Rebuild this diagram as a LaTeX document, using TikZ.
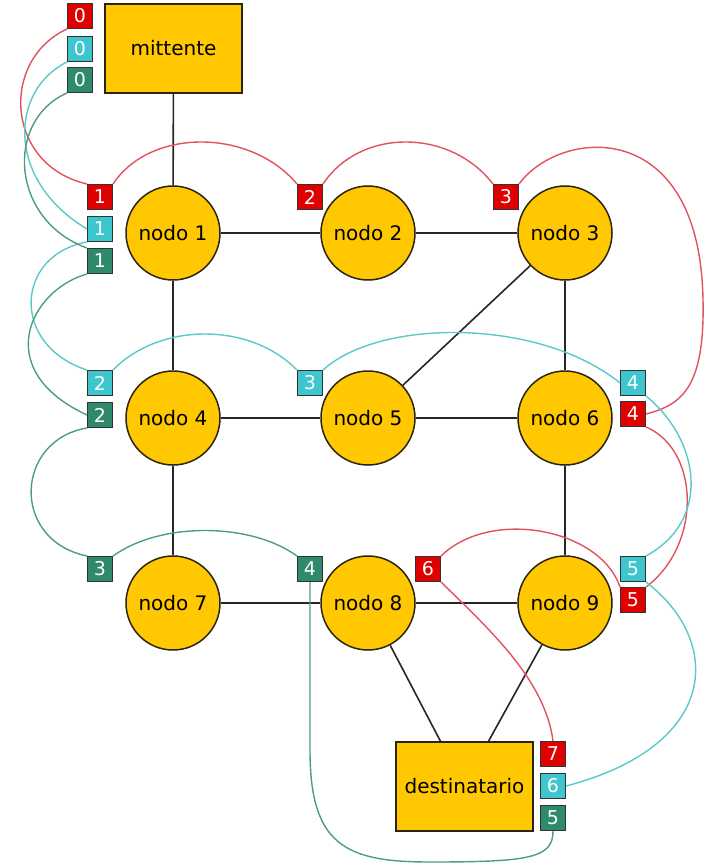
\documentclass[tikz,border=0pt]{standalone}
\usepackage{fontspec}
\setmainfont{DejaVu Sans}
\definecolor{giallo}{HTML}{FFC800}
\definecolor{bordo}{HTML}{2B2410}
\definecolor{rosso}{HTML}{E00000}
\definecolor{rossofilo}{HTML}{E2525E}
\definecolor{ciano}{HTML}{3EC6CE}
\definecolor{cianofilo}{HTML}{5CC8C8}
\definecolor{verde}{HTML}{2E8A68}
\definecolor{verdefilo}{HTML}{4E9C80}

\begin{document}
\begin{tikzpicture}[x=0.5pt, y=-0.5pt,
        cerchio/.style={circle, draw=bordo, line width=0.75pt, fill=giallo,
            minimum size=47pt, inner sep=0pt, font=\fontsize{10}{12}\selectfont},
        scatola/.style={rectangle, draw=bordo, line width=0.75pt, fill=giallo,
            minimum width=68.5pt, minimum height=44.5pt, font=\fontsize{10}{12}\selectfont},
        tag/.style={rectangle, draw=black!80, line width=0.5pt, minimum size=12.5pt,
            inner sep=0pt, text=white, font=\fontsize{9.5}{10}\selectfont},
        tagR/.style={tag, fill=rosso},
        tagC/.style={tag, fill=ciano},
        tagV/.style={tag, fill=verde},
        filoR/.style={rossofilo, line width=0.7pt},
        filoC/.style={cianofilo, line width=0.7pt},
        filoV/.style={verdefilo, line width=0.7pt},
        arco/.style={draw=black!85, line width=0.8pt}]
        \useasboundingbox (0,0) rectangle (713,866);

        \node[scatola] (mitt) at (173.5,48.5) {mittente};
        \node[cerchio] (n1) at (173,233) {nodo 1};
        \node[cerchio] (n2) at (368,233) {nodo 2};
        \node[cerchio] (n3) at (565,233) {nodo 3};
        \node[cerchio] (n4) at (173,418) {nodo 4};
        \node[cerchio] (n5) at (368,418) {nodo 5};
        \node[cerchio] (n6) at (565,418) {nodo 6};
        \node[cerchio] (n7) at (173,603) {nodo 7};
        \node[cerchio] (n8) at (368,603) {nodo 8};
        \node[cerchio] (n9) at (565,603) {nodo 9};
        \node[scatola] (dest) at (464.5,786.5) {destinatario};

        \node[tagR] (r0) at (80,16) {0};
        \node[tagC] (c0) at (80,49) {0};
        \node[tagV] (g0) at (80,80) {0};
        \node[tagR] (r1) at (100,197) {1};
        \node[tagC] (c1) at (100,229) {1};
        \node[tagV] (g1) at (100,261) {1};
        \node[tagR] (r2) at (310,197) {2};
        \node[tagR] (r3) at (506,197) {3};
        \node[tagC] (c2) at (100,383) {2};
        \node[tagV] (g2) at (100,415) {2};
        \node[tagC] (c3) at (310,383) {3};
        \node[tagC] (c4) at (633,383) {4};
        \node[tagR] (r4) at (633,414) {4};
        \node[tagV] (g3) at (100,569) {3};
        \node[tagV] (g4) at (310,569) {4};
        \node[tagR] (r6) at (428,569) {6};
        \node[tagC] (c5) at (633,569) {5};
        \node[tagR] (r5) at (633,600) {5};
        \node[tagR] (r7) at (553,754) {7};
        \node[tagC] (c6) at (553,786) {6};
        \node[tagV] (g5) at (553,818) {5};

        \draw[arco] (mitt) -- (n1);
        \draw[arco] (n1) -- (n2);
        \draw[arco] (n2) -- (n3);
        \draw[arco] (n1) -- (n4);
        \draw[arco] (n4) -- (n5);
        \draw[arco] (n5) -- (n6);
        \draw[arco] (n3) -- (n5);
        \draw[arco] (n3) -- (n6);
        \draw[arco] (n4) -- (n7);
        \draw[arco] (n6) -- (n9);
        \draw[arco] (n7) -- (n8);
        \draw[arco] (n8) -- (n9);
        \draw[arco] (n8) -- ([xshift=-12pt]dest.north);
        \draw[arco] (n9) -- ([xshift=12pt]dest.north);

        \draw[filoR] (r0.south west) .. controls (0,60) and (5,165) .. (r1.north west);
        \draw[filoR] (r1.north east) .. controls (150,128) and (250,128) .. (r2.north west);
        \draw[filoR] (r2.north east) .. controls (360,128) and (450,128) .. (r3.north west);
        \draw[filoR] (r3.north east) .. controls (560,128) and (700,115) .. (703,300)
            .. controls (705,390) and (680,405) .. (r4.east);
        \draw[filoR] (r4.south east) .. controls (700,450) and (702,545) .. (r5.north east);
        \draw[filoR] (r5.north west) .. controls (600,528) and (490,508) .. (r6.north east);
        \draw[filoR] (r6.south east) .. controls (490,630) and (545,680) .. (r7.north);

        \draw[filoC] (c0.south west) .. controls (10,90) and (5,180) .. (c1.west);
        \draw[filoC] (c1.south west) .. controls (15,255) and (10,345) .. (c2.north west);
        \draw[filoC] (c2.north east) .. controls (160,322) and (250,322) .. (c3.north west);
        \draw[filoC] (c3.north east) .. controls (380,318) and (540,318) .. (c4.west);
        \draw[filoC] (c4.south east) .. controls (700,440) and (712,520) .. (c5.north east);
        \draw[filoC] (c5.south east) .. controls (722,640) and (722,745) .. (c6.east);

        \draw[filoV] (g0.south west) .. controls (5,120) and (10,220) .. (g1.north west);
        \draw[filoV] (g1.south west) .. controls (30,290) and (-10,370) .. (g2.west);
        \draw[filoV] (g2.south west) .. controls (15,440) and (10,540) .. (g3.north west);
        \draw[filoV] (g3.north east) .. controls (160,522) and (250,522) .. (g4.north west);
        \draw[filoV] (g4.south) -- (310,750) .. controls (310,845) and (345,862) .. (430,862)
            .. controls (530,862) and (553,858) .. (g5.south);
\end{tikzpicture}
\end{document}
